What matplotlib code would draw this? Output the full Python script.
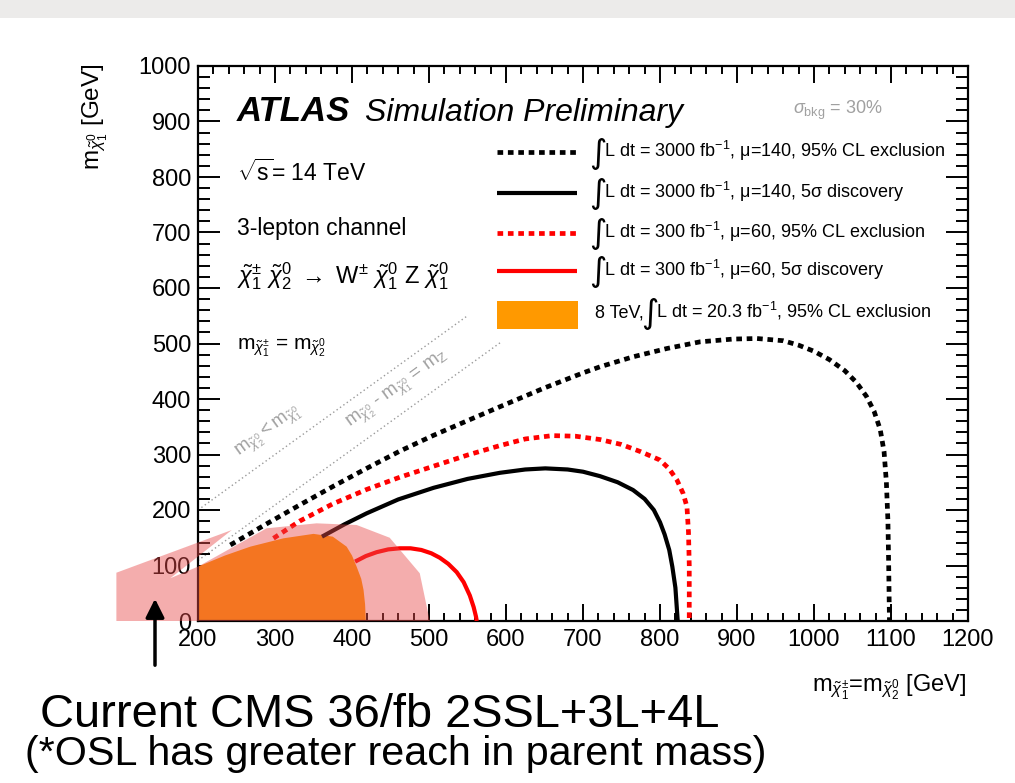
import matplotlib
matplotlib.use("Agg")
import matplotlib.pyplot as plt
from matplotlib.patches import Polygon, Rectangle
from matplotlib.lines import Line2D
from matplotlib.ticker import MultipleLocator

plt.rcParams['font.family'] = ['Liberation Sans', 'DejaVu Sans']
plt.rcParams['mathtext.fontset'] = 'custom'
plt.rcParams['mathtext.rm'] = 'Liberation Sans'
plt.rcParams['mathtext.it'] = 'Liberation Sans:italic'
plt.rcParams['mathtext.bf'] = 'Liberation Sans:bold'
plt.rcParams['mathtext.sf'] = 'Liberation Sans'

# ---------------- data (GeV) ----------------
x_excl_3000 = [242, 289, 332, 376, 419, 462, 505, 550, 592, 650, 700, 722, 765, 809, 852, 895,
               926, 960, 980, 1000, 1020, 1040, 1055, 1068, 1078, 1086, 1091, 1094, 1096, 1097, 1098]
y_excl_3000 = [137, 175, 209, 243, 275, 306, 334, 361, 386, 420, 447, 458, 476, 491, 503, 508,
               509, 505, 497, 486, 471, 451, 430, 405, 378, 345, 305, 250, 180, 100, 0]

x_disc_3000 = [361, 390, 419, 460, 506, 550, 592, 625, 651, 680, 700, 722, 745, 765, 780, 792,
               800, 806, 812, 816, 820, 822, 823]
y_disc_3000 = [152, 174, 194, 219, 240, 256, 267, 273, 275, 273, 269, 261, 250, 236, 220, 200,
               178, 156, 128, 98, 60, 20, 0]

x_excl_300 = [298, 332, 375, 419, 462, 506, 550, 592, 625, 660, 690, 722, 750, 775, 800, 812,
              822, 830, 835, 837, 838, 838]
y_excl_300 = [149, 180, 211, 237, 259, 279, 299, 316, 328, 334, 333, 327, 318, 305, 290, 274,
              254, 230, 206, 160, 100, 0]

x_disc_300 = [404, 418, 432, 447, 462, 476, 490, 503, 514, 525, 536, 545, 553, 558, 561, 562]
y_disc_300 = [107, 117, 124, 129, 131, 131, 128, 122, 114, 103, 88, 70, 46, 25, 8, 0]

x_atlas8 = [200, 200, 235, 268, 311, 350, 375, 393, 400, 406, 412, 415, 417, 418]
y_atlas8 = [0, 98, 118, 134, 149, 157, 152, 134, 118, 98, 76, 56, 30, 0]

x_cms = [94, 94, 244, 164, 200, 289, 354, 406, 449, 488, 501]
y_cms = [0, 87, 164, 77, 98, 167, 176, 173, 150, 86, 0]

diag_x = [200, 550]           # m(chi2) = m(chi1)
diagZ_x = [200, 595]          # m(chi2) - m(chi1) = mZ
mZ = 91

x_ticks = [200, 300, 400, 500, 600, 700, 800, 900, 1000, 1100, 1200]
y_ticks = [0, 100, 200, 300, 400, 500, 600, 700, 800, 900, 1000]

legend_labels = [
    'L dt = 3000 fb$^{-1}$, \u03bc=140, 95% CL exclusion',
    'L dt = 3000 fb$^{-1}$, \u03bc=140, 5\u03c3 discovery',
    'L dt = 300 fb$^{-1}$, \u03bc=60, 95% CL exclusion',
    'L dt = 300 fb$^{-1}$, \u03bc=60, 5\u03c3 discovery',
]

# ---------------- figure ----------------
W, H = 1015, 783
fig = plt.figure(figsize=(W / 100, H / 100), dpi=100)
fig.patch.set_facecolor('white')
L, R, T, B = 198, 968, 66, 621
ax = fig.add_axes([L / W, 1 - B / H, (R - L) / W, (B - T) / H])

def axc(px, py):
    return ((px - L) / (R - L), (B - py) / (B - T))

def fgc(px, py):
    return (px / W, 1 - py / H)

# top gray strip
fig.patches.append(Rectangle((0, 1 - 18 / H), 1, 18 / H, transform=fig.transFigure,
                             facecolor='#ecebea', edgecolor='none', zorder=0))

ax.set_xlim(200, 1200)
ax.set_ylim(0, 1000)

dot = (0, (1.2, 1.0))
lw_dot = 3.4
lw_sol = 3.0
ax.plot(x_excl_3000, y_excl_3000, color='black', lw=lw_dot, linestyle=dot, zorder=3)
ax.plot(x_disc_3000, y_disc_3000, color='black', lw=lw_sol, zorder=3, solid_capstyle='butt')
ax.plot(x_excl_300, y_excl_300, color='#ff0000', lw=lw_dot, linestyle=dot, zorder=3)
ax.plot(x_disc_300, y_disc_300, color='#ff0000', lw=lw_sol, zorder=3, solid_capstyle='butt')

ax.add_patch(Polygon(list(zip(x_atlas8, y_atlas8)), closed=True, facecolor='#ff9900',
                     edgecolor='none', zorder=2))

# diagonal lines
ax.plot(diag_x, diag_x, color='#9a9a9a', lw=1.0, linestyle=(0, (1, 2)), zorder=1)
ax.plot(diagZ_x, [v - mZ for v in diagZ_x], color='#9a9a9a', lw=1.0,
        linestyle=(0, (1, 2)), zorder=1)

# CMS overlay
cms = Polygon(list(zip(x_cms, y_cms)), closed=True, facecolor=(232 / 255, 75 / 255, 75 / 255),
              alpha=0.45, edgecolor='none', zorder=10, clip_on=False)
ax.add_patch(cms)

# ticks
ax.xaxis.set_minor_locator(MultipleLocator(20))
ax.yaxis.set_minor_locator(MultipleLocator(20))
ax.set_xticks(x_ticks)
ax.set_yticks(y_ticks)
ax.set_xticklabels([str(v) for v in x_ticks])
ax.set_yticklabels([str(v) for v in y_ticks])
ax.tick_params(which='both', direction='in', top=True, right=True, width=1.4,
               labelsize=17, colors='black')
ax.tick_params(axis='x', which='major', length=12.5, pad=6)
ax.tick_params(axis='x', which='minor', length=6)
ax.tick_params(axis='y', which='major', length=16, pad=5)
ax.tick_params(axis='y', which='minor', length=8.5)
for s in ax.spines.values():
    s.set_linewidth(1.6)

# axis labels
fig.text(*fgc(95, 63), r'$\mathrm{m}_{\tilde{\chi}^{0}_{1}}$ [GeV]', rotation=90,
         ha='center', va='top', fontsize=17.5)
fig.text(*fgc(966, 692), r'$\mathrm{m}_{\tilde{\chi}^{\pm}_{1}}$=$\mathrm{m}_{\tilde{\chi}^{0}_{2}}$ [GeV]',
         ha='right', va='baseline', fontsize=17)

# annotations inside
ax.text(*axc(237, 121), 'ATLAS', transform=ax.transAxes, fontsize=25, fontweight='bold',
        fontstyle='italic', va='baseline')
ax.text(*axc(365, 121), 'Simulation Preliminary', transform=ax.transAxes, fontsize=23,
        fontstyle='italic', va='baseline')
ax.text(*axc(793, 114), r'$\sigma_{\mathrm{bkg}}$ = 30%', transform=ax.transAxes, fontsize=13,
        color='#a0a0a0', va='baseline')
ax.text(*axc(237, 181), r'$\sqrt{\mathrm{s}}$= 14 TeV', transform=ax.transAxes, fontsize=16.5,
        va='baseline')
ax.text(*axc(237, 235), '3-lepton channel', transform=ax.transAxes, fontsize=16.5, va='baseline')
ax.text(*axc(237, 283),
        r'$\tilde{\chi}^{\pm}_{1}\ \tilde{\chi}^{0}_{2}\ \rightarrow\ \mathrm{W}^{\pm}\ \tilde{\chi}^{0}_{1}\ \mathrm{Z}\ \tilde{\chi}^{0}_{1}$',
        transform=ax.transAxes, fontsize=17, va='baseline')
ax.text(*axc(237, 350), r'$\mathrm{m}_{\tilde{\chi}^{\pm}_{1}}$ = $\mathrm{m}_{\tilde{\chi}^{0}_{2}}$',
        transform=ax.transAxes, fontsize=15, va='baseline')

ax.text(*axc(268, 432), r'$\mathrm{m}_{\tilde{\chi}^{0}_{2}} < \mathrm{m}_{\tilde{\chi}^{0}_{1}}$',
        transform=ax.transAxes, fontsize=13.5, color='#a0a0a0', rotation=36,
        ha='center', va='center', rotation_mode='anchor')
ax.text(*axc(398, 390), r'$\mathrm{m}_{\tilde{\chi}^{0}_{2}}$ - $\mathrm{m}_{\tilde{\chi}^{0}_{1}}$ = $\mathrm{m}_{\mathrm{Z}}$',
        transform=ax.transAxes, fontsize=13.5, color='#a0a0a0', rotation=36,
        ha='center', va='center', rotation_mode='anchor')

# legend (manual)
leg_y = [152, 193, 233, 271]
leg_styles = [('black', dot, lw_dot), ('black', '-', lw_sol), ('#ff0000', dot, lw_dot),
              ('#ff0000', '-', lw_sol)]
x0, _ = axc(497, 0)
x1, _ = axc(577, 0)
for yy, (c, ls, lw), lab in zip(leg_y, leg_styles, legend_labels):
    _, ya = axc(0, yy)
    ax.add_line(Line2D([x0, x1], [ya, ya], transform=ax.transAxes, color=c, lw=lw, linestyle=ls,
                       solid_capstyle='butt', zorder=5))
    ax.text(*axc(589, yy + 1), '\u222b', transform=ax.transAxes, fontsize=24,
            family=['DejaVu Sans'], va='center', ha='left')
    ax.text(*axc(604, yy + 5), lab, transform=ax.transAxes, fontsize=13, va='baseline')
bx0, by0 = axc(497, 329)
bx1, by1 = axc(578, 301)
ax.add_patch(Rectangle((bx0, by0), bx1 - bx0, by1 - by0, transform=ax.transAxes,
                       facecolor='#ff9900', edgecolor='none', zorder=5))
ax.text(*axc(595, 318), '8 TeV,', transform=ax.transAxes, fontsize=13, va='baseline')
ax.text(*axc(641, 314), '\u222b', transform=ax.transAxes, fontsize=24, family=['DejaVu Sans'],
        va='center', ha='left')
ax.text(*axc(656, 318), r'L dt = 20.3 fb$^{-1}$, 95% CL exclusion', transform=ax.transAxes,
        fontsize=13, va='baseline')

# CMS annotation below
ax.annotate('', xy=fgc(155, 596), xytext=fgc(155, 668), xycoords='figure fraction',
            textcoords='figure fraction',
            arrowprops=dict(arrowstyle='-|>', lw=2.5, color='black', mutation_scale=28),
            annotation_clip=False, zorder=20)
fig.text(*fgc(40, 727), 'Current CMS 36/fb 2SSL+3L+4L', fontsize=33.8, va='baseline')
fig.text(*fgc(25, 765), '(*OSL has greater reach in parent mass)', fontsize=29.7,
         va='baseline')

fig.savefig('out.png', dpi=100, facecolor='white')
